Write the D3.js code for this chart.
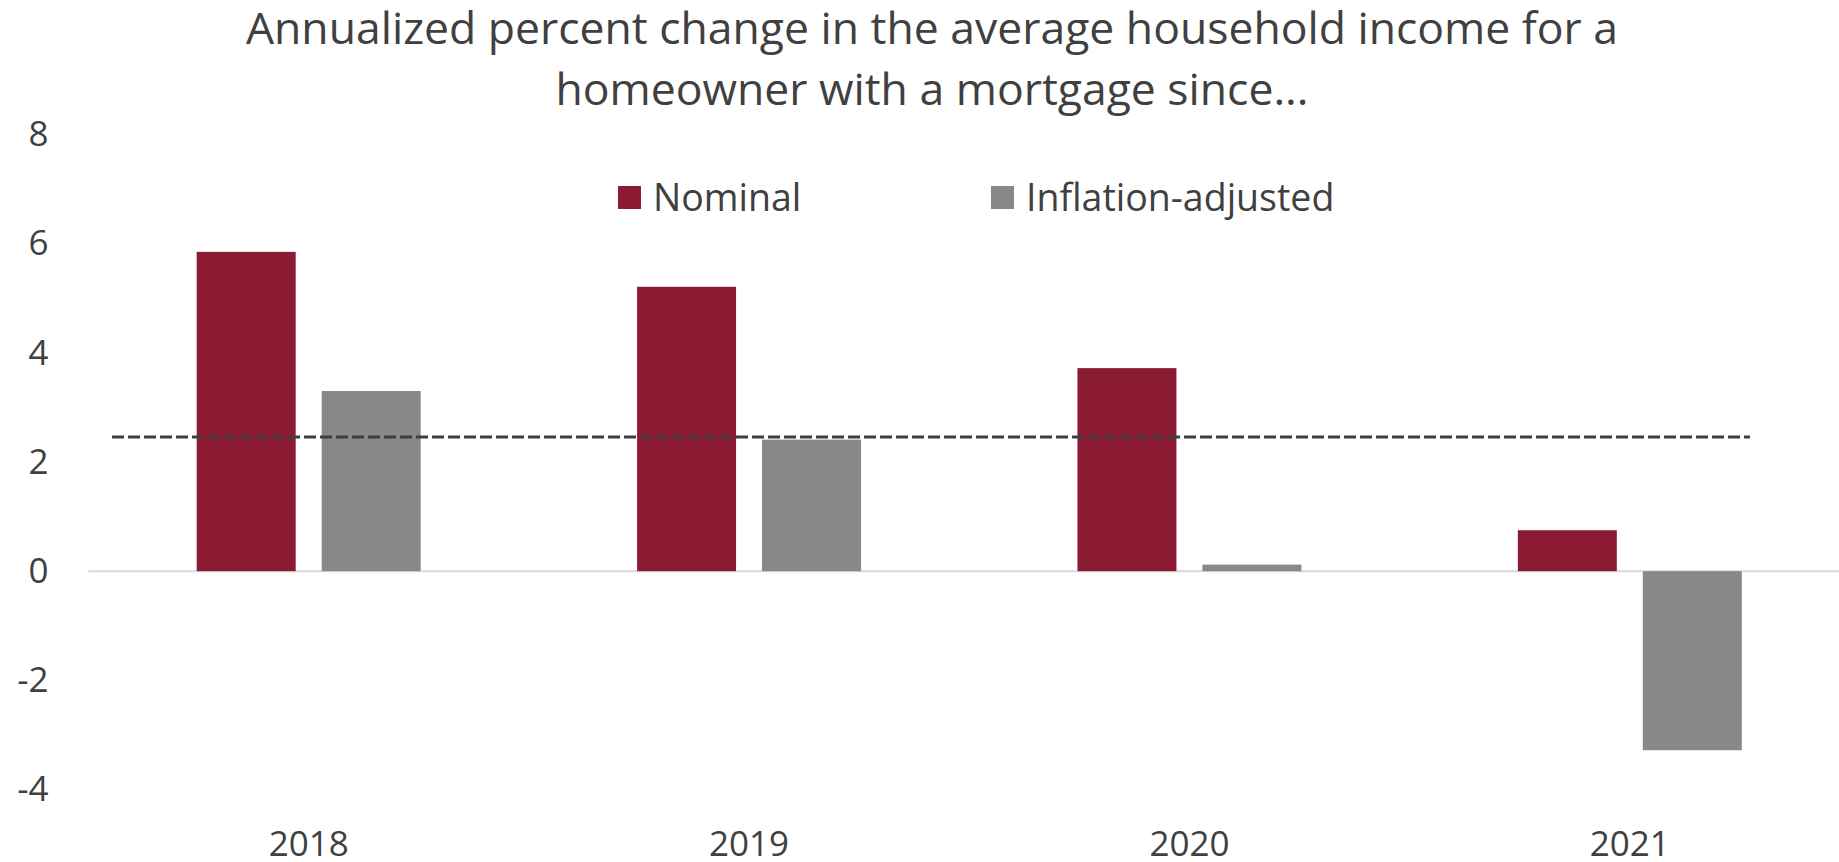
<!DOCTYPE html>
<html lang="en">
	<head>
		<meta charset="UTF-8" />
		<title>Annualized percent change in household income</title>
		<script src="https://d3js.org/d3.v7.min.js"></script>
		<style>
			body {
				margin: 0;
				background: #fff;
			}
			svg {
				display: block;
				font-family: 'Open Sans', sans-serif;
			}
			.axis text {
				fill: #404040;
				font-size: 35px;
				font-family: 'Open Sans', sans-serif;
			}
			.axis .domain {
				display: none;
			}
		</style>
	</head>
	<body>
		<svg id="chart" width="1839" height="862"></svg>

		<script>
			// chart data
			var years = ['2018', '2019', '2020', '2021']
			var seriesNames = ['Nominal', 'Inflation-adjusted']
			var nominal = [5.85, 5.21, 3.72, 0.75]
			var inflationAdjusted = [3.3, 2.41, 0.12, -3.28]
			var refValue = 2.46
			var yTicks = [-4, -2, 0, 2, 4, 6, 8]
			var titleLines = [
				'Annualized percent change in the average household income for a',
				'homeowner with a mortgage since...'
			]

			var colors = { Nominal: '#8b1a33', 'Inflation-adjusted': '#87888a' }

			var svg = d3.select('#chart')
			var plotLeft = 88.5
			var plotRight = 1850

			var x0 = d3
				.scaleBand()
				.domain(years)
				.range([plotLeft, plotRight])
				.paddingInner(0.4914)
				.paddingOuter(0.2457)

			var x1 = d3
				.scaleBand()
				.domain(seriesNames)
				.range([0, x0.bandwidth()])
				.paddingInner(0.208)

			var y = d3.scaleLinear().domain([-4, 8]).range([789.5, 134.5])

			// title
			svg
				.append('g')
				.selectAll('text')
				.data(titleLines)
				.enter()
				.append('text')
				.attr('x', 932)
				.attr('y', function (d, i) {
					return 44 + i * 61
				})
				.attr('text-anchor', 'middle')
				.style('font-size', '44.5px')
				.style('fill', '#404040')
				.text(function (d) {
					return d
				})

			// y axis labels (plain hyphen for negatives, like the original)
			svg
				.append('g')
				.attr('class', 'axis')
				.attr('transform', 'translate(' + plotLeft + ',0)')
				.call(
					d3
						.axisLeft(y)
						.tickValues(yTicks)
						.tickSize(0)
						.tickPadding(40)
						.tickFormat(function (d) {
							return String(d)
						})
				)

			// zero line
			svg
				.append('line')
				.attr('x1', plotLeft)
				.attr('x2', plotRight)
				.attr('y1', y(0))
				.attr('y2', y(0))
				.style('stroke', '#d9d9d9')
				.style('stroke-width', 2)

			// bars
			var rows = years.map(function (yr, i) {
				return {
					year: yr,
					values: [
						{ key: 'Nominal', value: nominal[i] },
						{ key: 'Inflation-adjusted', value: inflationAdjusted[i] }
					]
				}
			})

			svg
				.append('g')
				.selectAll('g')
				.data(rows)
				.enter()
				.append('g')
				.attr('transform', function (d) {
					return 'translate(' + x0(d.year) + ',0)'
				})
				.selectAll('rect')
				.data(function (d) {
					return d.values
				})
				.enter()
				.append('rect')
				.attr('x', function (d) {
					return x1(d.key)
				})
				.attr('width', x1.bandwidth())
				.attr('y', function (d) {
					return y(Math.max(0, d.value))
				})
				.attr('height', function (d) {
					return Math.abs(y(d.value) - y(0))
				})
				.style('fill', function (d) {
					return colors[d.key]
				})

			// dashed reference line
			svg
				.append('line')
				.attr('x1', 112)
				.attr('x2', 1750)
				.attr('y1', y(refValue))
				.attr('y2', y(refValue))
				.style('stroke', '#3b3f42')
				.style('stroke-width', 3)
				.style('stroke-dasharray', '12 4')

			// x axis labels
			var xAxis = svg
				.append('g')
				.attr('class', 'axis')
				.attr('transform', 'translate(0,' + y(-4) + ')')
				.call(d3.axisBottom(x0).tickSize(0))
			xAxis.selectAll('text').attr('y', 54).attr('dy', '0.35em')

			// legend
			var legendX = [618, 991]
			var legend = svg
				.append('g')
				.selectAll('g')
				.data(seriesNames)
				.enter()
				.append('g')
				.attr('transform', function (d, i) {
					return 'translate(' + legendX[i] + ',186)'
				})
			legend
				.append('rect')
				.attr('width', 23)
				.attr('height', 23)
				.style('fill', function (d) {
					return colors[d]
				})
			legend
				.append('text')
				.attr('x', 35)
				.attr('y', 12)
				.attr('dy', '0.35em')
				.style('font-size', '37.5px')
				.style('fill', '#404040')
				.text(function (d) {
					return d
				})
		</script>
	</body>
</html>
